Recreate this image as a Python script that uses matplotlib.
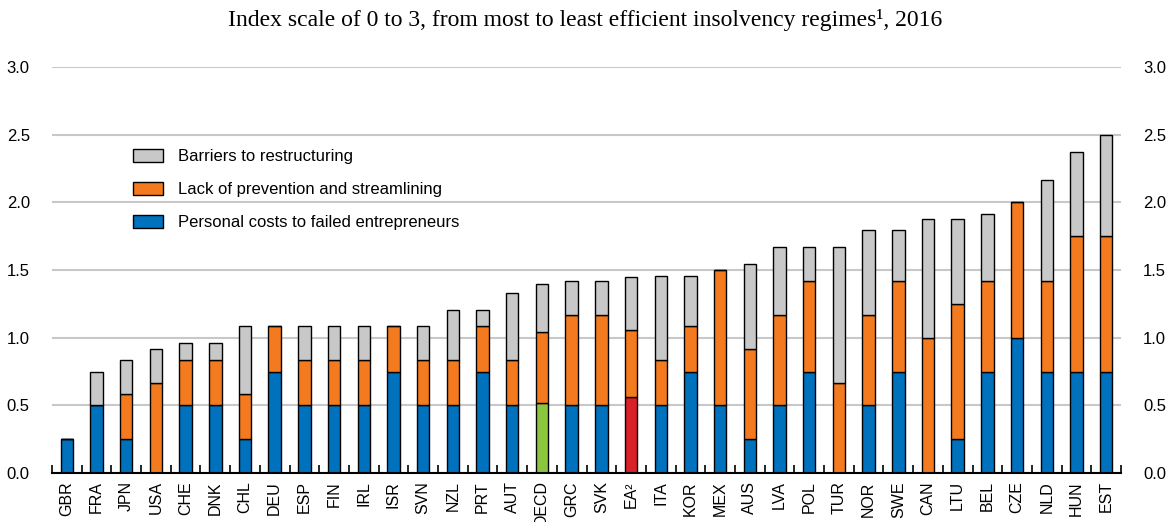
import numpy as np
import matplotlib.pyplot as plt
from matplotlib.patches import Patch

countries = ["GBR", "FRA", "JPN", "USA", "CHE", "DNK", "CHL", "DEU", "ESP", "FIN",
             "IRL", "ISR", "SVN", "NZL", "PRT", "AUT", "OECD", "GRC", "SVK", "EA²",
             "ITA", "KOR", "MEX", "AUS", "LVA", "POL", "TUR", "NOR", "SWE", "CAN",
             "LTU", "BEL", "CZE", "NLD", "HUN", "EST"]
personal = [0.25, 0.5, 0.25, 0.0, 0.5, 0.5, 0.25, 0.75, 0.5, 0.5,
            0.5, 0.75, 0.5, 0.5, 0.75, 0.5, 0.515, 0.5, 0.5, 0.56,
            0.5, 0.75, 0.5, 0.25, 0.5, 0.75, 0.0, 0.5, 0.75, 0.0,
            0.25, 0.75, 1.0, 0.75, 0.75, 0.75]
prevention = [0.0, 0.0, 0.333, 0.667, 0.333, 0.333, 0.333, 0.333, 0.333, 0.333,
              0.333, 0.333, 0.333, 0.333, 0.333, 0.333, 0.525, 0.667, 0.667, 0.50,
              0.333, 0.333, 1.0, 0.667, 0.667, 0.667, 0.667, 0.667, 0.667, 1.0,
              1.0, 0.667, 1.0, 0.667, 1.0, 1.0]
barriers = [0.0, 0.25, 0.25, 0.25, 0.125, 0.125, 0.5, 0.0, 0.25, 0.25,
            0.25, 0.0, 0.25, 0.375, 0.125, 0.5, 0.36, 0.25, 0.25, 0.39,
            0.625, 0.375, 0.0, 0.625, 0.5, 0.25, 1.0, 0.625, 0.375, 0.875,
            0.625, 0.5, 0.0, 0.75, 0.625, 0.75]

blue = "#0071BC"
orange = "#F47A20"
grey = "#C8C8C8"
green = "#8CC63F"
red = "#DA2128"

blue_cols = [green if c == "OECD" else red if c == "EA²" else blue for c in countries]

plt.rcParams["font.family"] = ["Liberation Sans", "DejaVu Sans"]

fig = plt.figure(figsize=(11.71, 5.22), dpi=100)
ax = fig.add_axes([52 / 1171, 49 / 522, (1121 - 52) / 1171, (473 - 67) / 522])

x = np.arange(len(countries))
personal = np.array(personal)
prevention = np.array(prevention)
barriers = np.array(barriers)
w = 0.42
ax.bar(x, personal, w, color=blue_cols, edgecolor="black", linewidth=1, zorder=3)
ax.bar(x, prevention, w, bottom=personal, color=orange, edgecolor="black", linewidth=1, zorder=3)
ax.bar(x, barriers, w, bottom=personal + prevention, color=grey, edgecolor="black", linewidth=1, zorder=3)

ax.set_xlim(-0.5, len(countries) - 0.5)
ax.set_ylim(0, 3.0)
ax.set_yticks(np.arange(0, 3.01, 0.5))
ax.set_yticklabels([f"{v:.1f}" for v in np.arange(0, 3.01, 0.5)])
ax.yaxis.grid(True, color="#C8C8C8", linewidth=1.5, zorder=0)
ax.set_axisbelow(True)

ax.set_xticks(x)
ax.set_xticklabels(countries, rotation=90, fontsize=11.5)
ax.set_xticks(np.arange(-0.5, len(countries), 1), minor=True)
ax.tick_params(axis="x", which="major", length=0, pad=6)
ax.tick_params(axis="x", which="minor", direction="in", length=6, width=1.2, color="black")
ax.tick_params(axis="y", length=0, labelsize=12, labelright=True, pad=16)

for s in ["left", "right", "top"]:
    ax.spines[s].set_visible(False)
ax.spines["bottom"].set_linewidth(1.5)
ax.spines["bottom"].set_zorder(4)

handles = [Patch(facecolor=grey, edgecolor="black", label="Barriers to restructuring"),
           Patch(facecolor=orange, edgecolor="black", label="Lack of prevention and streamlining"),
           Patch(facecolor=blue, edgecolor="black", label="Personal costs to failed entrepreneurs")]
ax.legend(handles=handles, loc="upper left", bbox_to_anchor=(0.062, 0.835), frameon=False,
          fontsize=12, handlelength=1.8, handleheight=0.85, labelspacing=1.05, handletextpad=0.9)

fig.text(0.5, 0.962, "Index scale of 0 to 3, from most to least efficient insolvency regimes¹, 2016",
         ha="center", va="center", fontsize=17, family=["Liberation Serif", "DejaVu Serif"])

fig.savefig("out.png", dpi=100)
